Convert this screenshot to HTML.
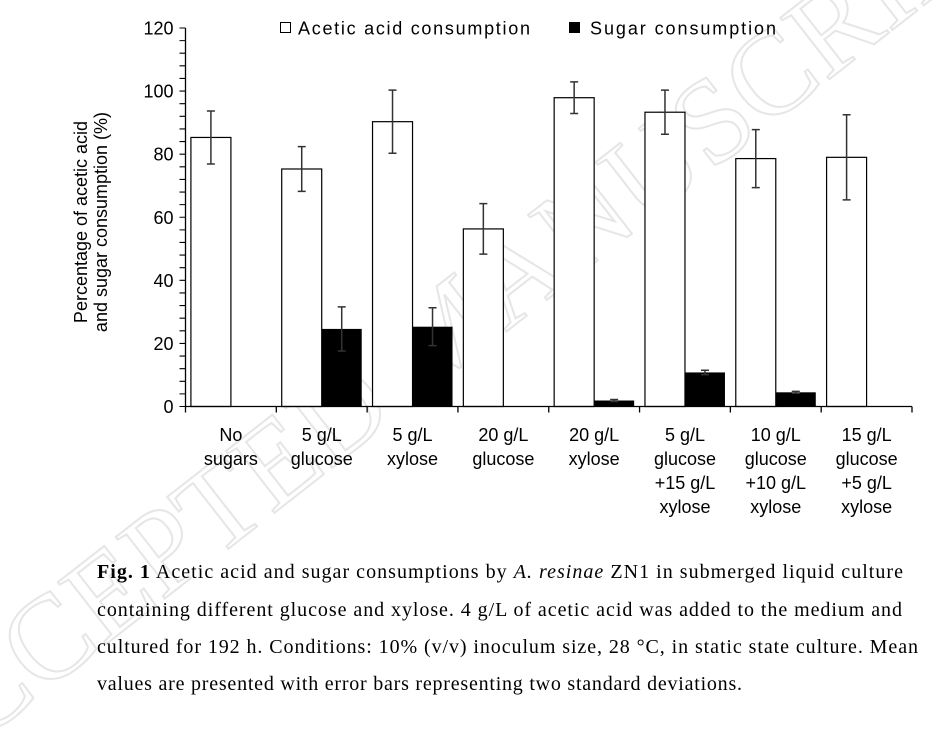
<!DOCTYPE html>
<html><head><meta charset="utf-8"><style>
html,body{margin:0;padding:0;background:#fff;width:943px;height:738px;overflow:hidden;}
svg{display:block;}
.ax{font-family:"Liberation Sans",Arial,sans-serif;font-size:18px;fill:#000;}
.cap{font-family:"Liberation Serif",serif;font-size:20px;fill:#000;}
</style></head><body>
<svg id="chart" width="943" height="738" viewBox="0 0 943 738" xmlns="http://www.w3.org/2000/svg" style="overflow:hidden">
<g>
<text x="470" y="360" transform="rotate(-38 470 360)" text-anchor="middle" font-family="Liberation Serif,serif" font-size="120" fill="none" stroke="#e6e6e6" stroke-width="2">ACCEPTED MANUSCRIPT</text>
</g>
<g id="plot"></g>
<g>
<rect x="280.5" y="22.5" width="10" height="10" fill="#fff" stroke="#000" stroke-width="1"/>
<text class="ax" x="298" y="34.5" textLength="232">Acetic acid consumption</text>
<rect x="569" y="22" width="11" height="11" fill="#000"/>
<text class="ax" x="590" y="34.5" textLength="186">Sugar consumption</text>
</g>
<g>
<text class="ax" transform="translate(87 222) rotate(-90)" text-anchor="middle">Percentage of acetic acid</text>
<text class="ax" transform="translate(107 222) rotate(-90)" text-anchor="middle">and sugar consumption (%)</text>
</g>
<g>
<text class="cap" x="97" y="578" textLength="806"><tspan font-weight="bold">Fig. 1</tspan> Acetic acid and sugar consumptions by <tspan font-style="italic">A. resinae</tspan> ZN1 in submerged liquid culture</text>
<text class="cap" x="97" y="616" textLength="805">containing different glucose and xylose. 4 g/L of acetic acid was added to the medium and</text>
<text class="cap" x="97" y="653" textLength="821">cultured for 192 h. Conditions: 10% (v/v) inoculum size, 28 °C, in static state culture. Mean</text>
<text class="cap" x="97" y="690" textLength="645">values are presented with error bars representing two standard deviations.</text>
</g>
</svg>
<script>
const categories = [["No","sugars"],["5 g/L","glucose"],["5 g/L","xylose"],["20 g/L","glucose"],["20 g/L","xylose"],["5 g/L","glucose","+15 g/L","xylose"],["10 g/L","glucose","+10 g/L","xylose"],["15 g/L","glucose","+5 g/L","xylose"]];
const aceticValues = [85.3, 75.3, 90.3, 56.3, 97.9, 93.3, 78.6, 79.0];
const aceticErrors = [8.4, 7.1, 10.0, 8.0, 5.0, 7.0, 9.2, 13.5];
const sugarValues = [0, 24.6, 25.3, 0, 1.9, 10.8, 4.5, 0];
const sugarErrors = [0, 7.0, 6.0, 0, 0.3, 0.7, 0.3, 0];
const yTicks = [0, 20, 40, 60, 80, 100, 120];

const NS = "http://www.w3.org/2000/svg";
const plot = document.getElementById('plot');
const X0 = 185.5, X1 = 912, Y0 = 406.5, YTOP = 28;
const yMax = 120;
const y = v => Y0 - v / yMax * (Y0 - YTOP);
const catW = (X1 - X0) / categories.length;
const cx = i => X0 + catW * (i + 0.5);
const barW = 40;
function mk(tag, attrs) { const e = document.createElementNS(NS, tag); for (const k in attrs) e.setAttribute(k, attrs[k]); plot.appendChild(e); return e; }

function errBar(x, v, e, name) {
  if (e <= 0) return;
  const g = mk('path', {d: `M${x},${y(v+e)}V${y(Math.max(0,v-e))}M${x-4},${y(v+e)}H${x+4}` + (v - e > 0 ? `M${x-4},${y(v-e)}H${x+4}` : ''), stroke: '#333', 'stroke-width': 1.5, fill: 'none'});
  
  
}

categories.forEach((c, i) => {
  const xc = cx(i);
  const a = mk('rect', {x: xc - barW, y: y(aceticValues[i]), width: barW, height: Y0 - y(aceticValues[i]), fill: '#fff', stroke: '#000', 'stroke-width': 1.2});
  
  
  errBar(xc - barW / 2, aceticValues[i], aceticErrors[i], 'error-bar-acetic-' + i);
  if (sugarValues[i] > 0) {
    const s = mk('rect', {x: xc, y: y(sugarValues[i]), width: barW, height: Y0 - y(sugarValues[i]), fill: '#000'});
    
    
    errBar(xc + barW / 2, sugarValues[i], sugarErrors[i], 'error-bar-sugar-' + i);
  }
  const t = mk('text', {x: xc, 'text-anchor': 'middle', class: 'ax'});
  
  
  c.forEach((ln, j) => { const ts = document.createElementNS(NS, 'tspan'); ts.setAttribute('x', xc); ts.setAttribute('y', 441 + j * 24); ts.textContent = ln; t.appendChild(ts); });
});

const xa = mk('path', {d: `M${X0},${Y0}H${X1}`, stroke: '#000', 'stroke-width': 1.3, fill: 'none'});


let td = '';
for (let i = 0; i <= categories.length; i++) td += `M${X0 + catW * i},${Y0}V${Y0 + 6}`;
const xt = mk('path', {d: td, stroke: '#000', 'stroke-width': 1.3});


const ya = mk('path', {d: `M${X0},${Y0}V${YTOP}`, stroke: '#000', 'stroke-width': 1.3, fill: 'none'});


let yd = '';
for (let v = 0; v <= yMax; v += 4) yd += `M${X0 - 6},${y(v)}H${X0}`;
const yt = mk('path', {d: yd, stroke: '#000', 'stroke-width': 1.1});


yTicks.forEach(v => {
  const t = mk('text', {x: X0 - 12, y: y(v) + 6.5, 'text-anchor': 'end', class: 'ax'});
  
  
  t.textContent = v;
});
</script>
</body></html>
